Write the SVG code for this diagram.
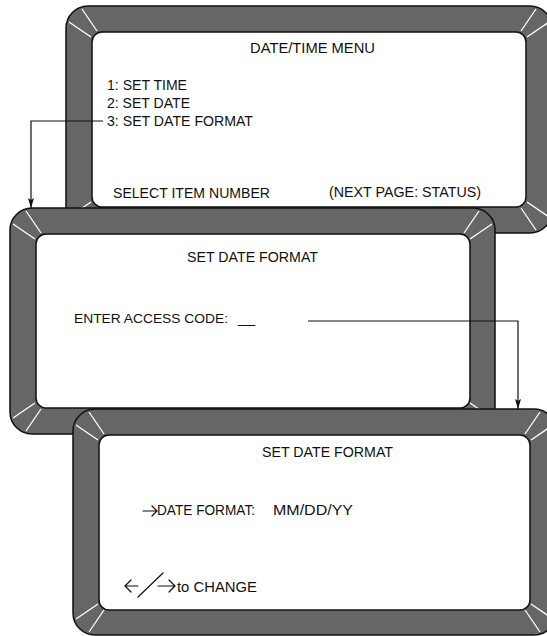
<svg xmlns="http://www.w3.org/2000/svg" width="547" height="636" viewBox="0 0 547 636">
<style>
.outer{fill:#666666;stroke:#111;stroke-width:1.5}
.inner{fill:#ffffff;stroke:#111;stroke-width:1.5}
.mark{stroke:#ffffff;stroke-width:1.3;fill:none}
.t{font-family:"Liberation Sans",Arial,sans-serif;font-size:15px;fill:#111}
.sym{stroke:#111;stroke-width:1.2;fill:none;stroke-linecap:round;stroke-linejoin:round}
.conn{stroke:#111;stroke-width:1.2;fill:none}
</style>
<defs>
<marker id="ah" markerUnits="userSpaceOnUse" markerWidth="11" markerHeight="7" refX="10" refY="3.5" orient="auto">
<path d="M0,0.5 L10,3.5 L0,6.5 L2,3.5 Z" fill="#111"/>
</marker>
</defs>

<g id="screen-menu">
<rect class="outer" x="66" y="6" width="486" height="227" rx="22"/>
<path class="mark" d="M82,9 L97,31 M69,22 L91,37 M536,9 L521,31 M549,22 L527,37 M536,230 L521,208 M549,217 L527,202 M82,230 L97,208 M69,217 L91,202"/>
<rect class="inner" x="92" y="32" width="434" height="175" rx="10"/>
<text class="t" x="250" y="53" textLength="125" lengthAdjust="spacingAndGlyphs">DATE/TIME MENU</text>
<text class="t" x="107" y="90" textLength="80" lengthAdjust="spacingAndGlyphs">1: SET TIME</text>
<text class="t" x="107" y="108" textLength="83" lengthAdjust="spacingAndGlyphs">2: SET DATE</text>
<text class="t" x="107" y="126" textLength="146" lengthAdjust="spacingAndGlyphs">3: SET DATE FORMAT</text>
<text class="t" x="113" y="198" textLength="157" lengthAdjust="spacingAndGlyphs">SELECT ITEM NUMBER</text>
<text class="t" x="329" y="197" textLength="152" lengthAdjust="spacingAndGlyphs">(NEXT PAGE: STATUS)</text>
</g>

<g id="screen-access">
<rect class="outer" x="10" y="208" width="485" height="226" rx="22"/>
<path class="mark" d="M26,211 L41,233 M13,224 L35,239 M479,211 L464,233 M492,224 L470,239 M479,431 L464,409 M492,418 L470,403 M26,431 L41,409 M13,418 L35,403"/>
<rect class="inner" x="36" y="234" width="434" height="174" rx="10"/>
<text class="t" x="187" y="262" textLength="131" lengthAdjust="spacingAndGlyphs">SET DATE FORMAT</text>
<text class="t" y="323" style="font-size:13.5px"><tspan x="74" textLength="154" lengthAdjust="spacingAndGlyphs">ENTER ACCESS CODE:</tspan><tspan x="238" textLength="17" lengthAdjust="spacingAndGlyphs">__</tspan></text>
</g>

<g id="screen-format">
<rect class="outer" x="73" y="409" width="483" height="226" rx="22"/>
<path class="mark" d="M89,412 L104,434 M76,425 L98,440 M540,412 L525,434 M553,425 L531,440 M540,632 L525,610 M553,619 L531,604 M89,632 L104,610 M76,619 L98,604"/>
<rect class="inner" x="99" y="435" width="431" height="175" rx="10"/>
<text class="t" x="262" y="457" textLength="131" lengthAdjust="spacingAndGlyphs">SET DATE FORMAT</text>
<path class="sym" d="M143,511 H157 M152,506 L157,511 L152,516"/>
<text class="t" y="515"><tspan x="157" textLength="98" lengthAdjust="spacingAndGlyphs">DATE FORMAT:</tspan><tspan x="273" textLength="80" lengthAdjust="spacingAndGlyphs">MM/DD/YY</tspan></text>
<path class="sym" d="M138,586 H125 M131,580 L125,586 L131,592 M138,597 L163,573 M158,586 H175 M169,580 L175,586 L169,592"/>
<text class="t" x="177" y="592" textLength="80" lengthAdjust="spacingAndGlyphs">to CHANGE</text>
</g>

<g id="connectors">
<path class="conn" d="M103,121 H31 V208" marker-end="url(#ah)"/>
<path class="conn" d="M308,321 H518 V409" marker-end="url(#ah)"/>
</g>
</svg>
